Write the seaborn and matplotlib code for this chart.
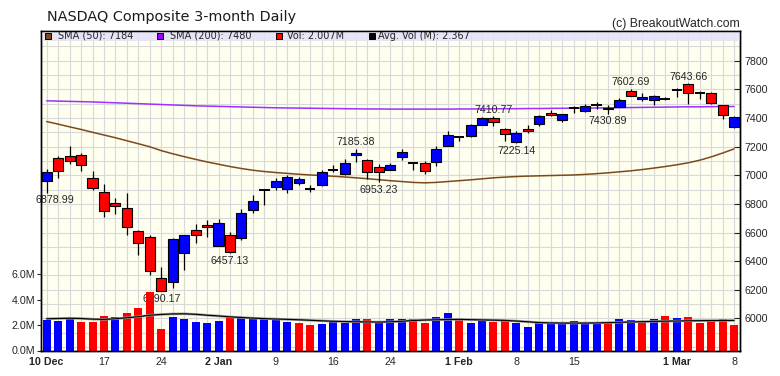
import numpy as np
import pandas as pd
import matplotlib
matplotlib.use("Agg")
import matplotlib.pyplot as plt
import seaborn as sns

# Trading days shown (Dec 2018 - Mar 2019)
dec_days = [10, 11, 12, 13, 14, 17, 18, 19, 20, 21, 24, 26, 27, 28, 31]
jan_days = [2, 3, 4, 7, 8, 9, 10, 11, 14, 15, 16, 17, 18, 22, 23, 24, 25, 28, 29, 30, 31]
feb_days = [1, 4, 5, 6, 7, 8, 11, 12, 13, 14, 15, 19, 20, 21, 22, 25, 26, 27, 28]
mar_days = [1, 4, 5, 6, 7, 8]
dates = ([f"2018-12-{d:02d}" for d in dec_days] + [f"2019-01-{d:02d}" for d in jan_days]
         + [f"2019-02-{d:02d}" for d in feb_days] + [f"2019-03-{d:02d}" for d in mar_days])

opens = [6963, 7121, 7133, 7140, 6981, 6886, 6809, 6771, 6608, 6571,
         6280, 6254, 6459, 6615, 6650, 6508, 6585, 6564, 6760, 6897.00,
         6918, 6907, 6946, 6905.92, 6930, 7034.69, 7012, 7138, 7110, 7058,
         7040, 7128, 7085.68, 7089, 7093, 7207, 7263.87, 7273, 7354, 7403,
         7320, 7233, 7326, 7357, 7438, 7385, 7472.41, 7450, 7489.07, 7473,
         7478, 7587, 7536, 7527, 7532.53, 7595.35, 7636, 7576.36, 7576, 7490,
         7334]
highs = [7045, 7133, 7203, 7152, 7028, 6937, 6844, 6876, 6615, 6585,
         6357, 6564, 6585, 6662, 6685, 6697, 6603, 6762, 6860, 6907,
         6984, 7000, 6988, 6930, 7035, 7070, 7117, 7185.38, 7112, 7082,
         7086, 7180, 7086, 7099, 7203, 7310, 7275, 7356, 7410, 7410.77,
         7331, 7310, 7350, 7424, 7455, 7431, 7482, 7500, 7512, 7490,
         7540, 7602.69, 7573, 7560, 7550, 7610, 7643.66, 7590, 7580, 7492,
         7412]
lows = [6878.99, 6981, 7082, 7028, 6900, 6708, 6732, 6585, 6443, 6306,
        6190.17, 6212, 6336, 6527, 6569, 6506, 6457.13, 6550, 6737, 6795,
        6895, 6876, 6935, 6883, 6923, 7023, 7000, 7093, 6977, 6953.23,
        7035, 7110, 7035, 7010, 7063, 7203, 7240, 7266, 7348, 7343,
        7238, 7225.14, 7292, 7343, 7413, 7372, 7436, 7440, 7466, 7430.89,
        7478, 7552, 7517, 7488, 7525, 7550, 7501, 7534, 7500, 7391,
        7332]
closes = [7020.52, 7031.83, 7098.31, 7070.33, 6910.66, 6753.73, 6783.91, 6636.83, 6528.41, 6332.99,
          6192.92, 6554.36, 6579.49, 6584.52, 6635.28, 6665.94, 6463.50, 6738.86, 6823.47, 6897.00,
          6957.08, 6986.07, 6971.48, 6905.92, 7023.83, 7034.69, 7084.46, 7157.23, 7020.36, 7025.77,
          7073.46, 7164.86, 7085.68, 7028.29, 7183.08, 7281.74, 7263.87, 7347.54, 7402.08, 7375.28,
          7288.35, 7298.20, 7307.90, 7414.62, 7420.38, 7426.95, 7472.41, 7486.77, 7489.07, 7459.71,
          7527.54, 7554.46, 7549.30, 7554.51, 7532.53, 7595.35, 7577.57, 7576.36, 7505.92, 7421.46,
          7408.14]
prev_close = 6969.25

# volume in millions
volume = [2.37, 2.29, 2.47, 2.21, 2.21, 2.68, 2.60, 2.92, 3.32, 4.58,
          1.66, 2.60, 2.45, 2.21, 2.13, 2.29, 2.60, 2.60, 2.53, 2.45,
          2.45, 2.21, 2.13, 1.97, 2.05, 2.24, 2.16, 2.45, 2.45, 2.29,
          2.45, 2.45, 2.45, 2.13, 2.60, 2.95, 2.45, 2.13, 2.29, 2.24,
          2.32, 2.16, 1.89, 2.21, 2.13, 2.13, 2.29, 2.13, 2.24, 2.13,
          2.45, 2.37, 2.29, 2.45, 2.68, 2.53, 2.60, 2.13, 2.29, 2.45,
          2.007]
avg_vol = [2.50, 2.52, 2.54, 2.52, 2.47, 2.45, 2.50, 2.58, 2.66, 2.78,
           2.84, 2.88, 2.89, 2.85, 2.78, 2.72, 2.65, 2.60, 2.55, 2.51,
           2.48, 2.45, 2.42, 2.38, 2.34, 2.30, 2.28, 2.26, 2.25, 2.24,
           2.26, 2.30, 2.36, 2.40, 2.42, 2.44, 2.45, 2.43, 2.41, 2.39,
           2.37, 2.32, 2.26, 2.20, 2.17, 2.16, 2.16, 2.16, 2.17, 2.19,
           2.22, 2.25, 2.27, 2.29, 2.31, 2.32, 2.34, 2.35, 2.36, 2.36,
           2.367]
sma50 = [7375, 7357, 7338, 7320, 7300, 7281, 7262, 7241, 7220, 7199,
         7172, 7150, 7130, 7111, 7093, 7077, 7061, 7047, 7035, 7026,
         7019, 7013, 7007, 7002, 6998, 6993, 6988, 6982, 6976, 6969,
         6962, 6956, 6950, 6947, 6950, 6956, 6962, 6968, 6975, 6982,
         6987, 6991, 6994, 6996, 6998, 7000, 7002, 7006, 7011, 7017,
         7024, 7031, 7040, 7050, 7061, 7073, 7087, 7105, 7128, 7155,
         7184]
sma200 = [7520, 7518, 7516, 7514, 7512, 7509, 7506, 7503, 7500, 7497,
          7494, 7491, 7488, 7485, 7483, 7481, 7479, 7477, 7475, 7473,
          7471, 7470, 7469, 7468, 7467, 7466, 7465, 7464, 7463, 7463,
          7462, 7462, 7462, 7462, 7462, 7462, 7463, 7463, 7464, 7464,
          7465, 7465, 7466, 7466, 7467, 7468, 7468, 7469, 7470, 7471,
          7472, 7473, 7474, 7475, 7476, 7477, 7478, 7478, 7479, 7480,
          7480]

tick_dates = ["2018-12-10", "2018-12-17", "2018-12-24", "2019-01-02", "2019-01-09", "2019-01-16",
              "2019-01-24", "2019-02-01", "2019-02-08", "2019-02-15", "2019-03-01", "2019-03-08"]
tick_labels = ["10 Dec", "17", "24", "2 Jan", "9", "16", "24", "1 Feb", "8", "15", "1 Mar", "8"]

# labelled highs / lows
low_marks = ["2018-12-10", "2018-12-24", "2019-01-03", "2019-01-23", "2019-02-08", "2019-02-21"]
high_marks = ["2019-01-18", "2019-02-06", "2019-02-25", "2019-03-04"]

up_col = "#0000ff"
dn_col = "#ff0000"
brown = "#7b4a1c"
purple = "#9b30ff"

df = pd.DataFrame({"date": dates, "open": opens, "high": highs, "low": lows, "close": closes,
                   "vol": volume, "avg_vol": avg_vol, "sma50": sma50, "sma200": sma200})
df["i"] = np.arange(len(df))
prev = df["close"].shift(1).fillna(prev_close)
df["vol_dir"] = np.where(df["close"] >= prev, "up", "down")

sns.set_style("white")
plt.rcParams["font.family"] = ["Liberation Sans", "DejaVu Sans"]

fig = plt.figure(figsize=(7.8, 3.76), dpi=100)
ax = fig.add_axes([40.5 / 780, 25.5 / 376, 699.5 / 780, 320 / 376])
ax.set_facecolor("#fffff0")
axv = ax.twinx()

# volume bars + average
sns.barplot(data=df, x="i", y="vol", hue="vol_dir", palette={"up": up_col, "down": dn_col},
            dodge=False, width=0.7, saturation=1, linewidth=0, errorbar=None,
            legend=False, native_scale=True, ax=axv)
sns.lineplot(data=df, x="i", y="avg_vol", color="#9a9a9a", lw=1.8, ax=axv)
sns.lineplot(data=df, x="i", y="avg_vol", color="black", lw=0.8, ax=axv)

# moving averages
sns.lineplot(data=df, x="i", y="sma50", color=brown, lw=1.1, ax=ax, zorder=2)
sns.lineplot(data=df, x="i", y="sma200", color=purple, lw=1.1, ax=ax, zorder=2)

# candles
ax.vlines(df["i"], df["low"], df["high"], color="black", lw=0.9, zorder=3)
body = df[df["close"] != df["open"]]
body_cols = np.where(body["close"] > body["open"], up_col, dn_col)
ax.bar(body["i"], body["close"] - body["open"], bottom=body["open"], width=0.88,
       color=body_cols, edgecolor="black", linewidth=0.8, zorder=4)
doji = df[df["close"] == df["open"]]
ax.hlines(doji["close"], doji["i"] - 0.45, doji["i"] + 0.45, color="black", lw=1.4, zorder=4)

# high / low labels
for d in low_marks:
    r = df[df["date"] == d].iloc[0]
    dx = 6 if r["i"] == 0 else 0
    ax.annotate(f"{r['low']:.2f}", (r["i"], r["low"]), xytext=(dx, -2), textcoords="offset points",
                ha="center", va="top", fontsize=7.7, zorder=6)
for d in high_marks:
    r = df[df["date"] == d].iloc[0]
    ax.annotate(f"{r['high']:.2f}", (r["i"], r["high"]), xytext=(0, 2.5), textcoords="offset points",
                ha="center", va="baseline", fontsize=7.7, zorder=6)

# limits
ax.set_xlim(-0.54, 60.52)
ax.set_ylim(5776, 8011)
axv.set_ylim(0, 25.2)

# grid: every day / every 100 points
ax.set_xticks(df["i"], minor=True)
ax.set_yticks(np.arange(5800, 8001, 100), minor=True)
ax.grid(which="both", color="#d9d9d9", lw=0.8)
ax.set_axisbelow(True)

# price axis on the right
ax.yaxis.tick_right()
ax.set_yticks(np.arange(6000, 7801, 200))
ax.tick_params(axis="y", which="major", direction="in", length=4, width=0.8, pad=3, labelsize=7.7)
ax.tick_params(which="minor", length=0)

# volume axis on the left
axv.yaxis.tick_left()
axv.set_yticks([0, 2, 4, 6])
axv.set_yticklabels(["0.0M", "2.0M", "4.0M", "6.0M"])
axv.tick_params(axis="y", direction="out", length=3, width=0.8, pad=1, labelsize=7.7)
axv.tick_params(which="minor", length=0)

# date ticks
tick_pos = [dates.index(t) for t in tick_dates]
ax.set_xticks(tick_pos)
ax.set_xticklabels(tick_labels)
ax.tick_params(axis="x", which="major", direction="out", length=3, width=0.8, pad=2, labelsize=7.7)
for lab in ax.get_xticklabels():
    if " " in lab.get_text():
        lab.set_fontweight("bold")

for a in (ax, axv):
    a.set_xlabel("")
    a.set_ylabel("")
    for s in a.spines.values():
        s.set_color("black")
        s.set_linewidth(1)

# legend band
band_h = 10.5 / 320
ax.add_patch(plt.Rectangle((0, 1 - band_h), 1, band_h, transform=ax.transAxes,
                           facecolor="#e2e2f6", edgecolor="none", alpha=0.88, zorder=5))
band_y = 1 - band_h / 2
legend_items = [("SMA (50): 7184", brown, 47.5, 57.7),
                ("SMA (200): 7480", "#9900ff", 160.0, 169.5),
                ("Vol: 2.007M", "#ff0000", 278.5, 286.7),
                ("Avg. Vol (M): 2.367", "black", 371.7, 378.3)]
for label, col, sq_x, tx_x in legend_items:
    ax.plot([(sq_x - 40.5) / 699.5], [band_y], marker="s", ms=4.3, mfc=col, mec="black", mew=0.7,
            transform=ax.transAxes, clip_on=False, zorder=6)
    ax.text((tx_x - 40.5) / 699.5, band_y, label, transform=ax.transAxes, fontsize=7,
            family=["DejaVu Sans"], va="center", ha="left", zorder=6)

fig.text(47 / 780, 1 - 20.7 / 376, "NASDAQ Composite 3-month Daily", fontsize=10.4,
         family=["DejaVu Sans"], color="#1a1a1a", ha="left", va="baseline")
fig.text(740 / 780, 1 - 27.3 / 376, "(c) BreakoutWatch.com", fontsize=8.8,
         ha="right", va="baseline")

fig.savefig("out.png", dpi=100)
